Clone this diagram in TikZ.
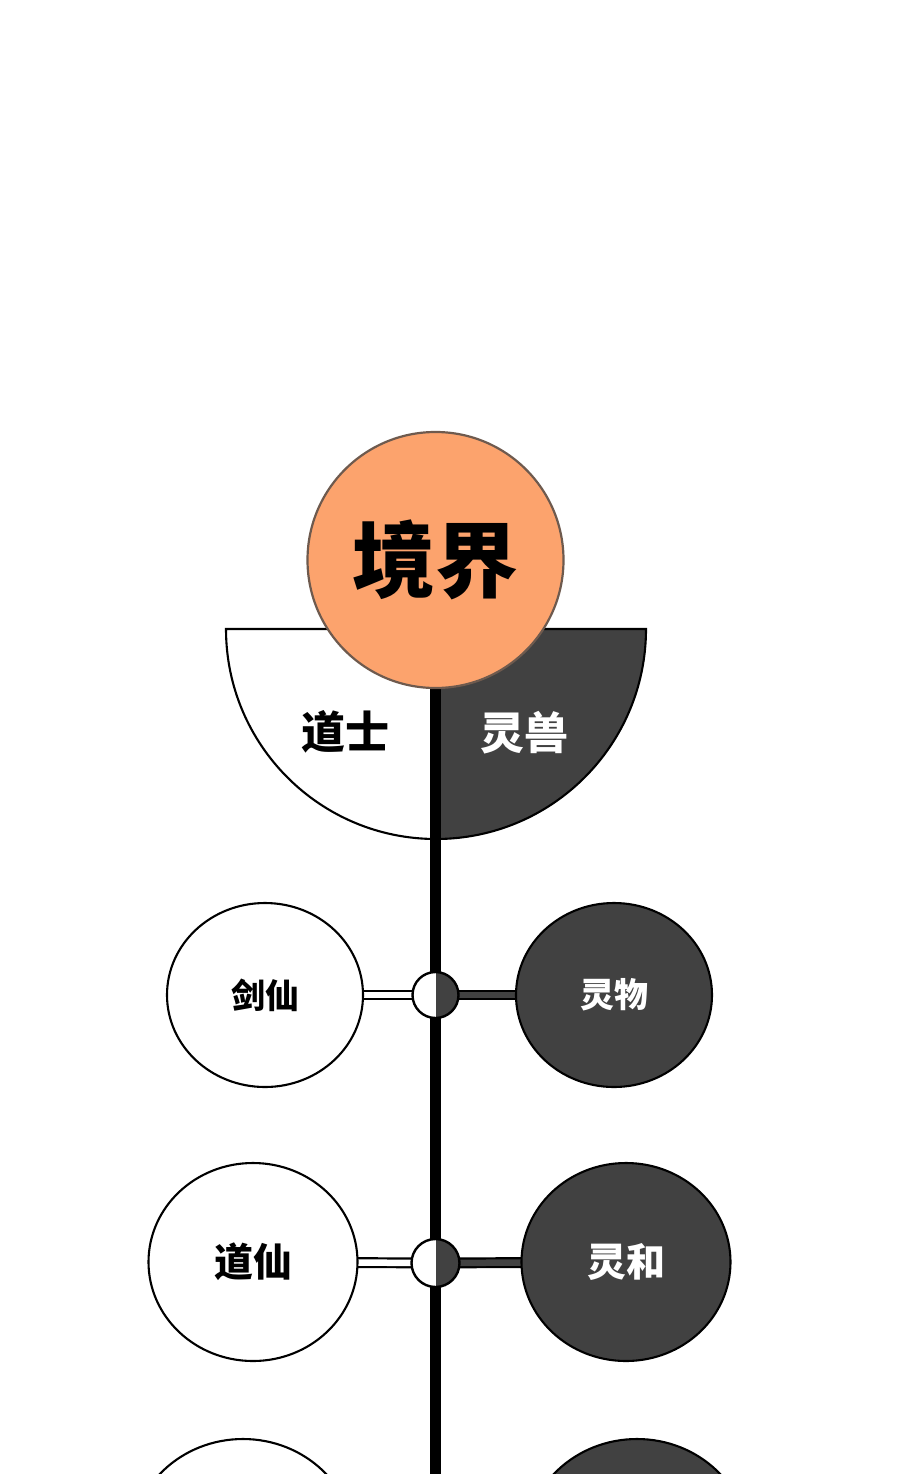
\documentclass[tikz,border=0pt]{standalone}
\usepackage{fontspec}
\newfontfamily\cjk{Noto Sans CJK SC}
\usetikzlibrary{shapes.geometric,backgrounds}
\definecolor{realmorange}{HTML}{FCA36D}
\definecolor{realmedge}{HTML}{6E5A4E}
\definecolor{beastgray}{HTML}{414141}

\begin{document}
\begin{tikzpicture}[x=1pt, y=-1pt,
		taoist/.style={ellipse, draw=black, line width=2.1pt, fill=white, inner sep=0pt},
		beast/.style={ellipse, draw=black, line width=2.1pt, fill=beastgray, text=white, inner sep=0pt},
		joint/.style={circle, draw=black, line width=2.4pt, fill=white, inner sep=0pt,
			path picture={\fill[beastgray] (path picture bounding box.north) rectangle (path picture bounding box.south east);}},
		whiteband/.style={line width=2.2pt, double=white, double distance=5.5pt},
		grayband/.style={line width=2.2pt, double=beastgray, double distance=5.5pt}]
		%%%%% START %%%%%
		
		\useasboundingbox (0, 0) rectangle (900, 1474);
		
		\node[circle, minimum size=256pt, inner sep=0pt, fill=realmorange, draw=realmedge, line width=2.2pt,
			font=\cjk\bfseries\fontsize{83}{83}\selectfont] (realm) at (435.5, 560) {境界};
		
		\node[font=\cjk\bfseries\fontsize{44}{44}\selectfont] (daoshi) at (345, 732) {道士};
		\node[font=\cjk\bfseries\fontsize{44}{44}\selectfont, text=white] (lingshou) at (524, 733) {灵兽};
		
		\node[joint, minimum size=46pt] (joint1) at (435.5, 995) {};
		\node[taoist, minimum width=196pt, minimum height=184pt, font=\cjk\bfseries\fontsize{34}{34}\selectfont] (jianxian) at (265, 995) {剑仙};
		\node[beast, minimum width=196pt, minimum height=184pt, font=\cjk\bfseries\fontsize{34}{34}\selectfont] (lingwu) at (614, 995) {灵物};
		
		\node[joint, minimum size=48pt] (joint2) at (435.5, 1263) {};
		\node[taoist, minimum width=209pt, minimum height=198pt, font=\cjk\bfseries\fontsize{39}{39}\selectfont] (daoxian) at (253, 1262) {道仙};
		\node[beast, minimum width=209pt, minimum height=198pt, font=\cjk\bfseries\fontsize{39}{39}\selectfont] (linghe) at (626, 1262) {灵和};
		
		\node[taoist, minimum width=224pt, minimum height=212pt] (left3) at (243, 1545) {};
		\node[beast, minimum width=224pt, minimum height=212pt] (right3) at (637, 1545) {};
		
		\coordinate (stemend) at (435.5, 1474);
		
		\begin{scope}[on background layer]
			\fill[white] (0, 0) rectangle (900, 1474);
			
			\draw[line width=2.1pt, fill=white] (436, 629) -- (226, 629) arc (180:270:210pt) -- cycle;
			\draw[line width=2.1pt, fill=beastgray] (436, 629) -- (646, 629) arc (0:-90:210pt) -- cycle;
			
			\draw[line width=11pt] (realm.center) -- (stemend);
			
			\draw[whiteband] (jianxian.center) -- (joint1.center);
			\draw[grayband] (joint1.center) -- (lingwu.center);
			\draw[whiteband, double distance=6.5pt] (daoxian.center) -- (joint2.center);
			\draw[grayband, double distance=6.5pt] (joint2.center) -- (linghe.center);
		\end{scope}
		
		%%%%% END %%%%%
	\end{tikzpicture}
\end{document}
